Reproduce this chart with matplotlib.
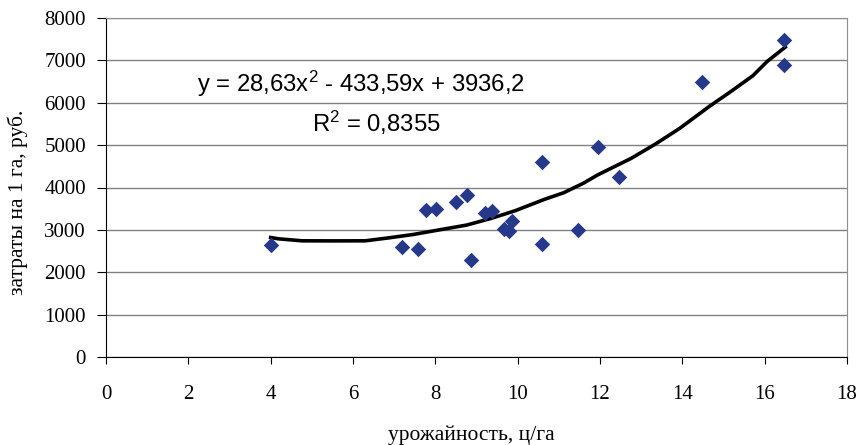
import matplotlib
matplotlib.use("Agg")
import matplotlib.pyplot as plt

plt.rcParams["mathtext.fontset"] = "custom"
plt.rcParams["mathtext.rm"] = "Liberation Sans"
plt.rcParams["mathtext.it"] = "Liberation Sans:italic"
plt.rcParams["mathtext.bf"] = "Liberation Sans:bold"

# scatter data (yield, cost)
yield_x = [4.0, 7.18, 7.58, 7.78, 8.01, 8.51, 8.78, 8.86, 9.2, 9.38, 9.68, 9.78, 9.87,
           10.6, 10.6, 11.47, 11.96, 12.46, 14.47, 16.48, 16.48]
cost_y = [2640, 2590, 2545, 3470, 3500, 3650, 3820, 2290, 3400, 3435, 3030, 2980, 3215,
          4610, 2670, 2990, 4960, 4255, 6500, 7470, 6900]

# trend line as drawn in the picture
trend_x = [4.0, 4.18, 4.76, 5.5, 6.3, 6.88, 7.47, 8.06, 8.76, 9.35, 9.94, 10.65, 11.12,
           11.59, 11.94, 12.76, 13.35, 13.94, 14.65, 15.12, 15.71, 16.06, 16.5]
trend_y = [2820, 2790, 2742, 2740, 2742, 2813, 2892, 2994, 3113, 3270, 3452, 3720, 3877,
           4098, 4295, 4689, 5028, 5398, 5910, 6225, 6635, 6974, 7313]

x_ticks = [0, 2, 4, 6, 8, 10, 12, 14, 16, 18]
y_ticks = [0, 1000, 2000, 3000, 4000, 5000, 6000, 7000, 8000]

eq_text = r"y = 28,63x$\mathregular{^2}$ - 433,59x + 3936,2"
r2_text = r"R$\mathregular{^2}$ = 0,8355"
x_label = "урожайность, ц/га"
y_label = "затраты на 1 га, руб."

fig = plt.figure(figsize=(8.63, 4.45), dpi=100)
# axes: x from 106 to 847 px, y from 18 to 357 px
ax = fig.add_axes([106 / 863, 1 - 357 / 445, 741 / 863, 339 / 445])

ax.set_xlim(0, 18)
ax.set_ylim(0, 8000)
ax.set_xticks(x_ticks)
ax.set_yticks(y_ticks)
ax.grid(axis="y", color="#808080", linewidth=1.0)
ax.set_axisbelow(True)

for s in ("top", "right"):
    ax.spines[s].set_color("#909090")
for s in ("left", "bottom"):
    ax.spines[s].set_color("#000000")

ax.plot(trend_x, trend_y, color="black", linewidth=2.6, zorder=3)
ax.scatter(yield_x, cost_y, marker="D", s=62, color="#26388a", zorder=4, linewidths=0)

serif = ["Liberation Serif", "DejaVu Serif"]
ax.tick_params(axis="x", direction="out", length=5, pad=15.5, labelsize=15)
ax.tick_params(axis="y", direction="out", length=6.5, pad=8, labelsize=15)
for lab in ax.get_xticklabels() + ax.get_yticklabels():
    lab.set_family(serif)

ax.set_xlabel(x_label, family=serif, fontsize=15.5, va="baseline")
ax.xaxis.set_label_coords((471 - 106) / 741, -(440 - 357) / 339)
ax.set_ylabel(y_label, family=serif, fontsize=15.5, va="center")
ax.yaxis.set_label_coords(-(106 - 18) / 741, (357 - 202) / 339)

sans = ["Liberation Sans", "DejaVu Sans"]
ax.text(2.21, 6254, eq_text, family=sans, fontsize=17.2, ha="left", va="baseline")
ax.text(5.0, 5310, r2_text, family=sans, fontsize=17.2, ha="left", va="baseline")

fig.savefig("out.png", dpi=100)
